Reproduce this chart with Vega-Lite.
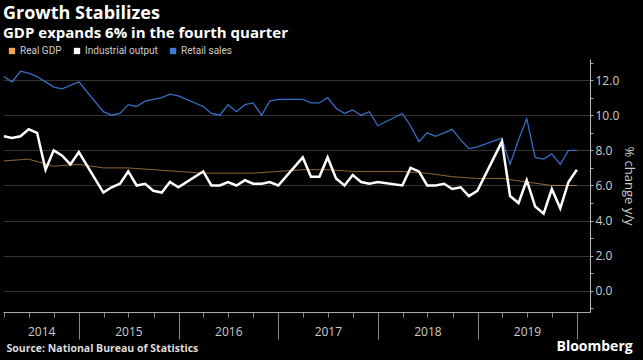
{
  "$schema": "https://vega.github.io/schema/vega-lite/v6.json",
  "width": 587,
  "height": 253,
  "autosize": {"type": "none"},
  "padding": {"left": 3, "top": 59, "right": 53, "bottom": 48},
  "background": "#000000",
  "config": {"view": {"stroke": null}, "font": "Open Sans"},
  "title": {
    "text": "Growth Stabilizes",
    "subtitle": "GDP expands 6% in the fourth quarter",
    "anchor": "start",
    "frame": "group",
    "font": "Open Sans",
    "fontSize": 18,
    "fontWeight": "bold",
    "color": "#ffffff",
    "subtitleFont": "Open Sans",
    "subtitleFontSize": 15,
    "subtitleFontWeight": "bold",
    "subtitleColor": "#ffffff",
    "subtitlePadding": 3,
    "offset": 5
  },
  "data": {"values": [
    {"date":"2014-03-31","series":"Real GDP","value":7.4},
    {"date":"2014-06-30","series":"Real GDP","value":7.5},
    {"date":"2014-09-30","series":"Real GDP","value":7.1},
    {"date":"2014-12-31","series":"Real GDP","value":7.2},
    {"date":"2015-03-31","series":"Real GDP","value":7.0},
    {"date":"2015-06-30","series":"Real GDP","value":7.0},
    {"date":"2015-09-30","series":"Real GDP","value":6.9},
    {"date":"2015-12-31","series":"Real GDP","value":6.8},
    {"date":"2016-03-31","series":"Real GDP","value":6.7},
    {"date":"2016-06-30","series":"Real GDP","value":6.7},
    {"date":"2016-09-30","series":"Real GDP","value":6.7},
    {"date":"2016-12-31","series":"Real GDP","value":6.8},
    {"date":"2017-03-31","series":"Real GDP","value":6.9},
    {"date":"2017-06-30","series":"Real GDP","value":6.9},
    {"date":"2017-09-30","series":"Real GDP","value":6.8},
    {"date":"2017-12-31","series":"Real GDP","value":6.8},
    {"date":"2018-03-31","series":"Real GDP","value":6.8},
    {"date":"2018-06-30","series":"Real GDP","value":6.7},
    {"date":"2018-09-30","series":"Real GDP","value":6.5},
    {"date":"2018-12-31","series":"Real GDP","value":6.4},
    {"date":"2019-03-31","series":"Real GDP","value":6.4},
    {"date":"2019-06-30","series":"Real GDP","value":6.2},
    {"date":"2019-09-30","series":"Real GDP","value":6.0},
    {"date":"2019-12-31","series":"Real GDP","value":6.0},

    {"date":"2014-03-31","series":"Retail sales","value":12.2},
    {"date":"2014-04-30","series":"Retail sales","value":11.9},
    {"date":"2014-05-31","series":"Retail sales","value":12.5},
    {"date":"2014-06-30","series":"Retail sales","value":12.4},
    {"date":"2014-07-31","series":"Retail sales","value":12.2},
    {"date":"2014-08-31","series":"Retail sales","value":11.9},
    {"date":"2014-09-30","series":"Retail sales","value":11.6},
    {"date":"2014-10-31","series":"Retail sales","value":11.5},
    {"date":"2014-11-30","series":"Retail sales","value":11.7},
    {"date":"2014-12-31","series":"Retail sales","value":11.9},
    {"date":"2015-03-31","series":"Retail sales","value":10.2},
    {"date":"2015-04-30","series":"Retail sales","value":10.0},
    {"date":"2015-05-31","series":"Retail sales","value":10.1},
    {"date":"2015-06-30","series":"Retail sales","value":10.6},
    {"date":"2015-07-31","series":"Retail sales","value":10.5},
    {"date":"2015-08-31","series":"Retail sales","value":10.8},
    {"date":"2015-09-30","series":"Retail sales","value":10.9},
    {"date":"2015-10-31","series":"Retail sales","value":11.0},
    {"date":"2015-11-30","series":"Retail sales","value":11.2},
    {"date":"2015-12-31","series":"Retail sales","value":11.1},
    {"date":"2016-03-31","series":"Retail sales","value":10.5},
    {"date":"2016-04-30","series":"Retail sales","value":10.1},
    {"date":"2016-05-31","series":"Retail sales","value":10.0},
    {"date":"2016-06-30","series":"Retail sales","value":10.6},
    {"date":"2016-07-31","series":"Retail sales","value":10.2},
    {"date":"2016-08-31","series":"Retail sales","value":10.6},
    {"date":"2016-09-30","series":"Retail sales","value":10.7},
    {"date":"2016-10-31","series":"Retail sales","value":10.0},
    {"date":"2016-11-30","series":"Retail sales","value":10.8},
    {"date":"2016-12-31","series":"Retail sales","value":10.9},
    {"date":"2017-03-31","series":"Retail sales","value":10.9},
    {"date":"2017-04-30","series":"Retail sales","value":10.7},
    {"date":"2017-05-31","series":"Retail sales","value":10.7},
    {"date":"2017-06-30","series":"Retail sales","value":11.0},
    {"date":"2017-07-31","series":"Retail sales","value":10.4},
    {"date":"2017-08-31","series":"Retail sales","value":10.1},
    {"date":"2017-09-30","series":"Retail sales","value":10.3},
    {"date":"2017-10-31","series":"Retail sales","value":10.0},
    {"date":"2017-11-30","series":"Retail sales","value":10.2},
    {"date":"2017-12-31","series":"Retail sales","value":9.4},
    {"date":"2018-03-31","series":"Retail sales","value":10.1},
    {"date":"2018-04-30","series":"Retail sales","value":9.4},
    {"date":"2018-05-31","series":"Retail sales","value":8.5},
    {"date":"2018-06-30","series":"Retail sales","value":9.0},
    {"date":"2018-07-31","series":"Retail sales","value":8.8},
    {"date":"2018-08-31","series":"Retail sales","value":9.0},
    {"date":"2018-09-30","series":"Retail sales","value":9.2},
    {"date":"2018-10-31","series":"Retail sales","value":8.6},
    {"date":"2018-11-30","series":"Retail sales","value":8.1},
    {"date":"2018-12-31","series":"Retail sales","value":8.2},
    {"date":"2019-03-31","series":"Retail sales","value":8.7},
    {"date":"2019-04-30","series":"Retail sales","value":7.2},
    {"date":"2019-05-31","series":"Retail sales","value":8.6},
    {"date":"2019-06-30","series":"Retail sales","value":9.8},
    {"date":"2019-07-31","series":"Retail sales","value":7.6},
    {"date":"2019-08-31","series":"Retail sales","value":7.5},
    {"date":"2019-09-30","series":"Retail sales","value":7.8},
    {"date":"2019-10-31","series":"Retail sales","value":7.2},
    {"date":"2019-11-30","series":"Retail sales","value":8.0},
    {"date":"2019-12-31","series":"Retail sales","value":8.0},

    {"date":"2014-03-31","series":"Industrial output","value":8.8},
    {"date":"2014-04-30","series":"Industrial output","value":8.7},
    {"date":"2014-05-31","series":"Industrial output","value":8.8},
    {"date":"2014-06-30","series":"Industrial output","value":9.2},
    {"date":"2014-07-31","series":"Industrial output","value":9.0},
    {"date":"2014-08-31","series":"Industrial output","value":6.9},
    {"date":"2014-09-30","series":"Industrial output","value":8.0},
    {"date":"2014-10-31","series":"Industrial output","value":7.7},
    {"date":"2014-11-30","series":"Industrial output","value":7.2},
    {"date":"2014-12-31","series":"Industrial output","value":7.9},
    {"date":"2015-03-31","series":"Industrial output","value":5.6},
    {"date":"2015-04-30","series":"Industrial output","value":5.9},
    {"date":"2015-05-31","series":"Industrial output","value":6.1},
    {"date":"2015-06-30","series":"Industrial output","value":6.8},
    {"date":"2015-07-31","series":"Industrial output","value":6.0},
    {"date":"2015-08-31","series":"Industrial output","value":6.1},
    {"date":"2015-09-30","series":"Industrial output","value":5.7},
    {"date":"2015-10-31","series":"Industrial output","value":5.6},
    {"date":"2015-11-30","series":"Industrial output","value":6.2},
    {"date":"2015-12-31","series":"Industrial output","value":5.9},
    {"date":"2016-03-31","series":"Industrial output","value":6.8},
    {"date":"2016-04-30","series":"Industrial output","value":6.0},
    {"date":"2016-05-31","series":"Industrial output","value":6.0},
    {"date":"2016-06-30","series":"Industrial output","value":6.2},
    {"date":"2016-07-31","series":"Industrial output","value":6.0},
    {"date":"2016-08-31","series":"Industrial output","value":6.3},
    {"date":"2016-09-30","series":"Industrial output","value":6.1},
    {"date":"2016-10-31","series":"Industrial output","value":6.1},
    {"date":"2016-11-30","series":"Industrial output","value":6.2},
    {"date":"2016-12-31","series":"Industrial output","value":6.0},
    {"date":"2017-03-31","series":"Industrial output","value":7.6},
    {"date":"2017-04-30","series":"Industrial output","value":6.5},
    {"date":"2017-05-31","series":"Industrial output","value":6.5},
    {"date":"2017-06-30","series":"Industrial output","value":7.6},
    {"date":"2017-07-31","series":"Industrial output","value":6.4},
    {"date":"2017-08-31","series":"Industrial output","value":6.0},
    {"date":"2017-09-30","series":"Industrial output","value":6.6},
    {"date":"2017-10-31","series":"Industrial output","value":6.2},
    {"date":"2017-11-30","series":"Industrial output","value":6.1},
    {"date":"2017-12-31","series":"Industrial output","value":6.2},
    {"date":"2018-03-31","series":"Industrial output","value":6.0},
    {"date":"2018-04-30","series":"Industrial output","value":7.0},
    {"date":"2018-05-31","series":"Industrial output","value":6.8},
    {"date":"2018-06-30","series":"Industrial output","value":6.0},
    {"date":"2018-07-31","series":"Industrial output","value":6.0},
    {"date":"2018-08-31","series":"Industrial output","value":6.1},
    {"date":"2018-09-30","series":"Industrial output","value":5.8},
    {"date":"2018-10-31","series":"Industrial output","value":5.9},
    {"date":"2018-11-30","series":"Industrial output","value":5.4},
    {"date":"2018-12-31","series":"Industrial output","value":5.7},
    {"date":"2019-03-31","series":"Industrial output","value":8.5},
    {"date":"2019-04-30","series":"Industrial output","value":5.4},
    {"date":"2019-05-31","series":"Industrial output","value":5.0},
    {"date":"2019-06-30","series":"Industrial output","value":6.3},
    {"date":"2019-07-31","series":"Industrial output","value":4.8},
    {"date":"2019-08-31","series":"Industrial output","value":4.4},
    {"date":"2019-09-30","series":"Industrial output","value":5.8},
    {"date":"2019-10-31","series":"Industrial output","value":4.7},
    {"date":"2019-11-30","series":"Industrial output","value":6.2},
    {"date":"2019-12-31","series":"Industrial output","value":6.9}
  ]},
  "encoding": {
    "y": {
      "field": "value",
      "type": "quantitative",
      "scale": {"domain": [-1.2, 13.2], "nice": false, "zero": false},
      "axis": {
        "orient": "right",
        "values": [-1,0,1,2,3,4,5,6,7,8,9,10,11,12,13],
        "labelExpr": "datum.value % 2 == 0 ? format(datum.value, '.1f') : ''",
        "labelOverlap": false,
        "labelFont": "Open Sans",
        "labelFontSize": 12,
        "labelColor": "#cccccc",
        "labelPadding": 2,
        "tickSize": 3,
        "tickColor": "#aaaaaa",
        "domainColor": "#bbbbbb",
        "grid": true,
        "gridColor": "#333333",
        "gridOpacity": {"condition": {"test": "datum.value % 2 == 0 && datum.value >= 0", "value": 1}, "value": 0},
        "title": "% change y/y",
        "titleAngle": 90,
        "titleFont": "Open Sans",
        "titleFontSize": 13,
        "titleFontWeight": "normal",
        "titleColor": "#cccccc",
        "titlePadding": 3
      }
    },
    "color": {
      "field": "series",
      "type": "nominal",
      "scale": {"domain": ["Real GDP", "Industrial output", "Retail sales"], "range": ["#f0a850", "#ffffff", "#3d7ad8"]},
      "legend": {
        "orient": "none",
        "legendX": 4,
        "legendY": -13,
        "direction": "horizontal",
        "title": null,
        "symbolType": "square",
        "symbolSize": 40,
        "symbolStrokeWidth": 0,
        "symbolOpacity": 1,
        "labelFont": "Roboto",
        "labelFontSize": 10,
        "labelColor": "#cccccc",
        "labelOffset": 3,
        "columnPadding": 10,
        "padding": 0,
        "encode": {"symbols": {"update": {"fill": {"field": "value", "scale": "color"}, "fillOpacity": {"value": 1}}}}
      }
    }
  },
  "layer": [
    {
      "transform": [{"filter": "datum.series == 'Real GDP'"}],
      "mark": {"type": "line", "strokeWidth": 1, "opacity": 0.6},
      "encoding": {
        "x": {
          "field": "date",
          "type": "temporal",
          "scale": {"type": "utc", "domain": [{"year": 2014, "month": 3, "date": 28, "utc": true}, {"year": 2020, "month": 2, "date": 17, "utc": true}]},
          "axis": {
            "orient": "bottom",
            "domain": false,
            "ticks": false,
            "labels": false,
            "grid": false,
            "title": "Bloomberg",
            "titleX": 553,
            "titleY": 38,
            "titleAlign": "left",
            "titleAnchor": "start",
            "titleBaseline": "alphabetic",
            "titleFont": "Open Sans",
            "titleFontSize": 14,
            "titleFontWeight": "bold",
            "titleColor": "#ffffff"
          }
        }
      }
    },
    {
      "transform": [{"filter": "datum.series == 'Retail sales'"}],
      "mark": {"type": "line", "strokeWidth": 1.3, "opacity": 0.9},
      "encoding": {
        "x": {"field": "date", "type": "temporal", "axis": null}
      }
    },
    {
      "transform": [{"filter": "datum.series == 'Industrial output'"}],
      "mark": {"type": "line", "strokeWidth": 2.5},
      "encoding": {
        "x": {
          "field": "date",
          "type": "temporal",
          "axis": {
            "orient": "bottom",
            "values": [
              {"year": 2014, "month": 4, "date": 1, "utc": true},
              {"year": 2014, "month": 7, "date": 1, "utc": true},
              {"year": 2014, "month": 8, "date": 15, "utc": true},
              {"year": 2014, "month": 10, "date": 1, "utc": true},
              {"year": 2015, "month": 1, "date": 1, "utc": true},
              {"year": 2015, "month": 4, "date": 1, "utc": true},
              {"year": 2015, "month": 7, "date": 1, "utc": true},
              {"year": 2015, "month": 10, "date": 1, "utc": true},
              {"year": 2016, "month": 1, "date": 1, "utc": true},
              {"year": 2016, "month": 4, "date": 1, "utc": true},
              {"year": 2016, "month": 7, "date": 1, "utc": true},
              {"year": 2016, "month": 10, "date": 1, "utc": true},
              {"year": 2017, "month": 1, "date": 1, "utc": true},
              {"year": 2017, "month": 4, "date": 1, "utc": true},
              {"year": 2017, "month": 7, "date": 1, "utc": true},
              {"year": 2017, "month": 10, "date": 1, "utc": true},
              {"year": 2018, "month": 1, "date": 1, "utc": true},
              {"year": 2018, "month": 4, "date": 1, "utc": true},
              {"year": 2018, "month": 7, "date": 1, "utc": true},
              {"year": 2018, "month": 10, "date": 1, "utc": true},
              {"year": 2019, "month": 1, "date": 1, "utc": true},
              {"year": 2019, "month": 4, "date": 1, "utc": true},
              {"year": 2019, "month": 7, "date": 1, "utc": true},
              {"year": 2019, "month": 10, "date": 1, "utc": true},
              {"year": 2020, "month": 1, "date": 1, "utc": true}
            ],
            "labelExpr": "((utcmonth(datum.value) == 6 && utcyear(datum.value) > 2014) || utcmonth(datum.value) == 7) ? utcFormat(datum.value, '%Y') : ''",
            "labelOverlap": false,
            "labelFlush": false,
            "labelFont": "Open Sans",
            "labelFontSize": 12,
            "labelColor": "#cccccc",
            "labelPadding": 9,
            "tickSize": {"condition": {"test": "utcmonth(datum.value) == 0", "value": 27}, "value": 5},
            "tickOpacity": {"condition": {"test": "utcmonth(datum.value) == 7", "value": 0}, "value": 1},
            "tickColor": "#888888",
            "domainColor": "#aaaaaa",
            "grid": false,
            "title": "Source: National Bureau of Statistics",
            "titleX": 3,
            "titleY": 39,
            "titleAlign": "left",
            "titleAnchor": "start",
            "titleBaseline": "alphabetic",
            "titleFont": "Open Sans",
            "titleFontSize": 10.5,
            "titleFontWeight": "bold",
            "titleColor": "#dddddd"
          }
        }
      }
    }
  ],
  "resolve": {"axis": {"x": "independent"}}
}
